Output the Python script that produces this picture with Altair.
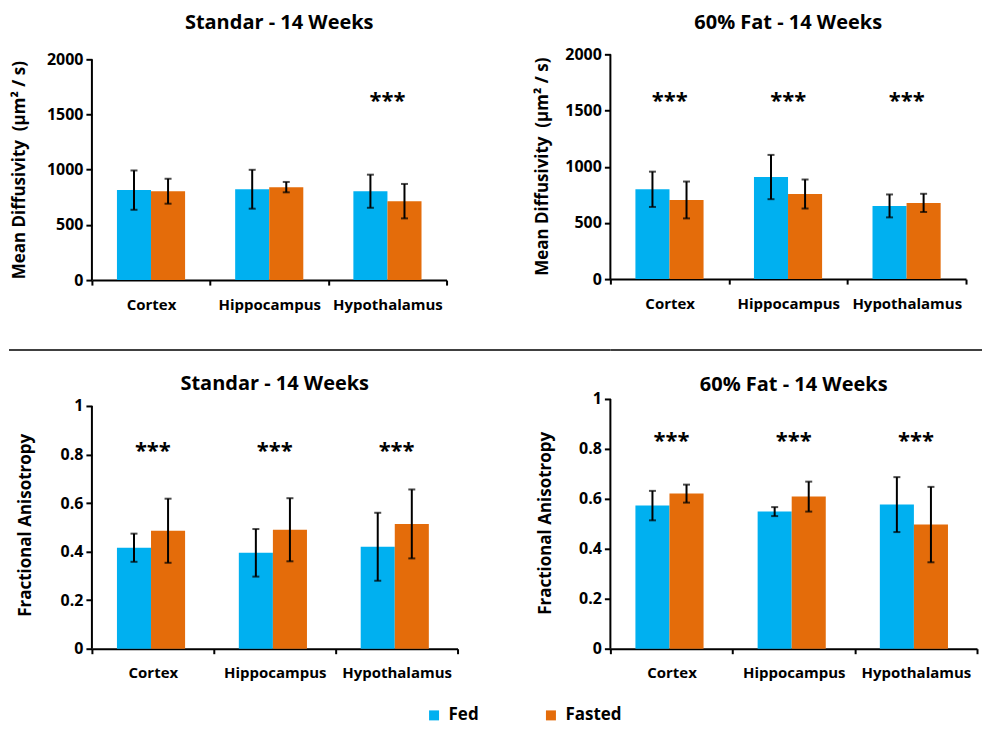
import altair as alt
import pandas as pd

regions = ["Cortex", "Hippocampus", "Hypothalamus"]
groups = ["Fed", "Fasted"]
colors = ["#00B0F0", "#E46C0A"]

# Mean diffusivity, standard diet
md_std_fed = [815, 823, 805]
md_std_fed_err = [178, 176, 150]
md_std_fasted = [805, 842, 715]
md_std_fasted_err = [113, 47, 156]
md_std_stars = ["Hypothalamus"]
md_std_star_y = 1645

# Mean diffusivity, 60% fat
md_fat_fed = [799, 908, 651]
md_fat_fed_err = [157, 197, 102]
md_fat_fasted = [704, 757, 678]
md_fat_fasted_err = [164, 129, 81]
md_fat_stars = ["Cortex", "Hippocampus", "Hypothalamus"]
md_fat_star_y = 1607

# Fractional anisotropy, standard diet
fa_std_fed = [0.416, 0.395, 0.420]
fa_std_fed_err = [0.058, 0.098, 0.140]
fa_std_fasted = [0.486, 0.490, 0.514]
fa_std_fasted_err = [0.132, 0.130, 0.142]
fa_std_stars = ["Cortex", "Hippocampus", "Hypothalamus"]
fa_std_star_y = 0.825

# Fractional anisotropy, 60% fat
fa_fat_fed = [0.573, 0.549, 0.577]
fa_fat_fed_err = [0.059, 0.018, 0.110]
fa_fat_fasted = [0.621, 0.609, 0.497]
fa_fat_fasted_err = [0.036, 0.060, 0.151]
fa_fat_stars = ["Cortex", "Hippocampus", "Hypothalamus"]
fa_fat_star_y = 0.845

FONT = "Open Sans"
MD_TITLE = "Mean Diffusivity \u00a0(µm² / s)"
FA_TITLE = "Fractional Anisotropy"

LEGEND = alt.Legend(
    title=None, orient="none", legendX=334, legendY=653,
    direction="horizontal", symbolType="square", symbolSize=100,
    symbolStrokeWidth=0, labelFont=FONT, labelFontSize=17,
    labelFontWeight="bold", labelColor="black", labelOffset=6,
    columnPadding=63
)


def panel(fed, fed_err, fasted, fasted_err, star_regions, star_y, title,
          ytitle, ymax, ystep, width, height, axis_px, title_dy, title_dx,
          ytitle_x, ytitle_y):
    # axis_px: pixel length of the 0..ymax axis inside the panel height
    df = pd.DataFrame({
        "Region": regions * 2,
        "Group": ["Fed"] * 3 + ["Fasted"] * 3,
        "Mean": fed + fasted,
        "Err": fed_err + fasted_err,
    })
    base = alt.Chart(df).transform_calculate(
        lo="datum.Mean - datum.Err", hi="datum.Mean + datum.Err"
    )
    xax = alt.Axis(title=None, labelAngle=0, tickBand="extent", tickSize=5,
                   tickWidth=2, domainWidth=2, domainColor="black",
                   tickColor="black", labelFont=FONT, labelFontSize=15,
                   labelFontWeight="bold", labelColor="black", labelPadding=12)
    x = alt.X("Region:N", sort=regions,
              scale=alt.Scale(paddingInner=0, paddingOuter=0), axis=xax)
    xo = alt.XOffset("Group:N", sort=groups,
                     scale=alt.Scale(domain=groups, paddingInner=0, paddingOuter=0.735))
    yvals = [round(i * ystep, 4) for i in range(int(round(ymax / ystep)) + 1)]
    yax = alt.Axis(title=ytitle, values=yvals, format="~r", grid=False, tickSize=6,
                   tickWidth=2, domain=False,
                   tickColor="black", labelFont=FONT, labelFontSize=16,
                   labelFontWeight="bold", labelColor="black", labelPadding=3,
                   titleFont=FONT, titleFontSize=17, titleFontWeight="bold",
                   titleColor="black", titleX=ytitle_x, titleY=ytitle_y,
                   titleBaseline="middle", titleAngle=270)
    ysc = alt.Scale(domain=[0, ymax * height / axis_px], nice=False, zero=True)
    color = alt.Color("Group:N", sort=groups,
                      scale=alt.Scale(domain=groups, range=colors), legend=LEGEND)
    bars = base.mark_bar().encode(
        x=x, xOffset=xo, y=alt.Y("Mean:Q", scale=ysc, axis=yax), color=color
    )
    rules = base.mark_rule(color="black", strokeWidth=2).encode(
        x=x, xOffset=xo, y=alt.Y("lo:Q", scale=ysc, axis=yax), y2="hi:Q"
    )
    cap_lo = base.mark_tick(color="black", thickness=2, size=7).encode(
        x=x, xOffset=xo, y=alt.Y("lo:Q", scale=ysc, axis=yax)
    )
    cap_hi = base.mark_tick(color="black", thickness=2, size=7).encode(
        x=x, xOffset=xo, y=alt.Y("hi:Q", scale=ysc, axis=yax)
    )
    yline = alt.Chart(pd.DataFrame({"lo": [0], "hi": [ymax]})).mark_rule(
        color="black", strokeWidth=2
    ).encode(x=alt.value(0), y=alt.Y("lo:Q", scale=ysc, axis=yax), y2="hi:Q")
    sdf = pd.DataFrame({"Region": star_regions, "Y": [star_y] * len(star_regions),
                        "Label": ["***"] * len(star_regions)})
    stars = alt.Chart(sdf).mark_text(
        font=FONT, fontSize=22, fontWeight="bold", color="black",
        baseline="alphabetic", dy=10
    ).encode(x=x, y=alt.Y("Y:Q", scale=ysc, axis=yax), text="Label:N")
    return alt.layer(bars, rules, cap_lo, cap_hi, yline, stars).properties(
        width=width, height=height,
        title=alt.TitleParams(title, font=FONT, fontSize=20, fontWeight="bold",
                              color="black", anchor="middle", frame="group",
                              baseline="middle", offset=0, dy=title_dy,
                              dx=title_dx),
    )


p1 = panel(md_std_fed, md_std_fed_err, md_std_fasted, md_std_fasted_err,
           md_std_stars, md_std_star_y, "Standar - 14 Weeks",
           MD_TITLE, 2000, 500, 355, 226, 221, -8, 10,
           -72, 115.5)
p2 = panel(md_fat_fed, md_fat_fed_err, md_fat_fasted, md_fat_fasted_err,
           md_fat_stars, md_fat_star_y, "60% Fat - 14 Weeks",
           MD_TITLE, 2000, 500, 356, 225, 225, -3, 0,
           -68, 112)
p3 = panel(fa_std_fed, fa_std_fed_err, fa_std_fasted, fa_std_fasted_err,
           fa_std_stars, fa_std_star_y, "Standar - 14 Weeks",
           FA_TITLE, 1, 0.2, 366, 250, 243, 6, 0,
           -66, 126)
p4 = panel(fa_fat_fed, fa_fat_fed_err, fa_fat_fasted, fa_fat_fasted_err,
           fa_fat_stars, fa_fat_star_y, "60% Fat - 14 Weeks",
           FA_TITLE, 1, 0.2, 367, 250, 250, 14, 0,
           -65, 124)


def sep_piece(x1, x2, w):
    return alt.Chart(pd.DataFrame({"v": [0]})).mark_rule(
        color="black", strokeWidth=1.5
    ).encode(x=alt.value(x1), x2=alt.value(x2), y=alt.value(70)).properties(
        width=w, height=119
    )


sep_left = sep_piece(-83, 519, 366)
sep_right = sep_piece(0, 372, 367)

chart = alt.concat(
    p1, p2, sep_left, sep_right, p3, p4,
    columns=2, spacing={"row": 0, "column": 153}, bounds="flush"
).properties(
    padding={"left": 0, "top": 4, "right": 0, "bottom": 0}
).configure_view(stroke=None)

chart.save("out.html", embed_options={"renderer": "svg", "actions": False})
